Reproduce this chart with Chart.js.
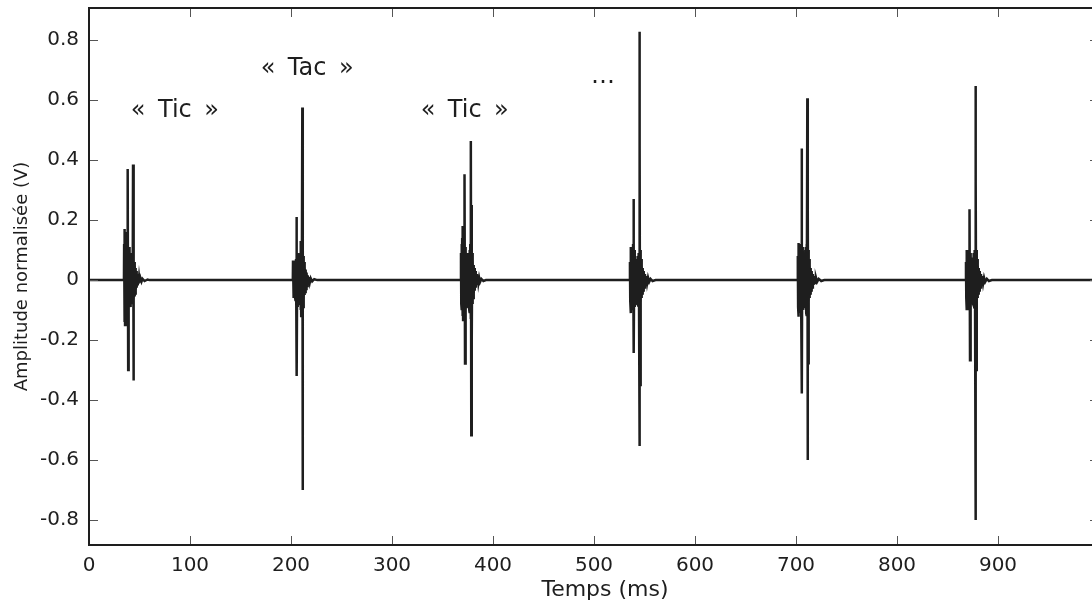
<!DOCTYPE html>
<html>
<head>
<meta charset="utf-8">
<script src="https://cdn.jsdelivr.net/npm/chart.js@4/dist/chart.umd.min.js"></script>
<style>
  html, body { margin: 0; padding: 0; background: #fff; overflow: hidden; }
  #view { position: relative; width: 1092px; height: 604px; overflow: hidden; }
  #view canvas { position: absolute; left: 0; top: 0; display: block; }
</style>
</head>
<body>
<div id="view"><canvas id="c" width="1100" height="604"></canvas></div>
<script>
// Axis ticks
const xTicks = [0, 100, 200, 300, 400, 500, 600, 700, 800, 900, 1000];
const yTicks = [-0.8, -0.6, -0.4, -0.2, 0, 0.2, 0.4, 0.6, 0.8];

// Recorded clicks of the metronome: [time (ms), amplitude (V)]
const burst1 = [
  [34.6, 0], [34.8, 0.12], [35.1, -0.14], [35.4, 0.17], [35.7, -0.15], [36.0, 0.16], [36.3, -0.13],
  [36.6, 0.15], [36.9, -0.12], [37.2, 0.13], [37.5, -0.11], [37.8, 0.10], [38.1, -0.10],
  [38.5, 0.37], [38.8, -0.30], [39.1, 0.09], [39.4, -0.10], [39.7, 0.11], [40.0, -0.09],
  [40.3, 0.10], [40.6, -0.08], [40.9, 0.09], [41.2, -0.09], [41.5, 0.08], [41.8, -0.07],
  [42.1, 0.09], [42.4, -0.08], [42.8, 0.08], [43.2, -0.07], [43.6, 0.385], [43.9, -0.335],
  [44.2, 0.07], [44.5, -0.07], [44.8, 0.06], [45.1, -0.055], [45.4, 0.05], [45.7, -0.045],
  [46.0, 0.04], [46.4, -0.035], [46.8, 0.03], [47.2, -0.025], [47.6, 0.02], [48.0, -0.018],
  [48.5, 0.015], [49.0, -0.012], [49.6, 0.01], [50.2, -0.008], [51.0, 0.006], [52.0, -0.005],
  [53.0, 0.004], [55.0, -0.003], [58.0, 0.002], [60.0, 0]
];
const burst2 = [
  [201.8, 0], [202.0, 0.065], [202.3, -0.06], [202.6, 0.06], [202.9, -0.055], [203.2, 0.05],
  [203.5, -0.05], [203.8, 0.055], [204.1, -0.06], [204.4, 0.06], [204.7, -0.07], [205.0, 0.07],
  [205.3, -0.08], [205.6, 0.21], [205.9, -0.32], [206.2, 0.08], [206.5, -0.09], [206.8, 0.09],
  [207.1, -0.08], [207.4, 0.08], [207.7, -0.075], [208.0, 0.07], [208.3, -0.07], [208.6, 0.075],
  [208.9, -0.08], [209.2, 0.09], [209.5, -0.10], [209.8, 0.13], [210.1, -0.12], [210.5, 0.10],
  [210.8, -0.11], [211.2, 0.575], [211.5, -0.70], [211.8, 0.10], [212.1, -0.09], [212.4, 0.08],
  [212.7, -0.07], [213.0, 0.06], [213.3, -0.05], [213.7, 0.045], [214.1, -0.04], [214.5, 0.035],
  [214.9, -0.03], [215.4, 0.025], [215.9, -0.02], [216.5, 0.016], [217.1, -0.012], [217.8, 0.01],
  [218.6, -0.008], [219.5, 0.006], [221.0, -0.004], [223.0, 0.003], [226.0, 0]
];
const burst3 = [
  [368.0, 0], [368.3, 0.09], [368.6, -0.08], [368.9, 0.12], [369.2, -0.10], [369.5, 0.14],
  [369.8, -0.12], [370.1, 0.18], [370.4, -0.133], [370.7, 0.12], [371.0, -0.11], [371.3, 0.13],
  [371.6, -0.12], [372.0, 0.353], [372.3, -0.278], [372.6, 0.11], [372.9, -0.10], [373.2, 0.10],
  [373.5, -0.09], [373.8, 0.09], [374.1, -0.085], [374.4, 0.085], [374.7, -0.08], [375.0, 0.08],
  [375.3, -0.08], [375.6, 0.085], [375.9, -0.09], [376.2, 0.09], [376.5, -0.10], [376.8, 0.10],
  [377.1, -0.11], [377.5, 0.12], [377.9, -0.13], [378.2, 0.464], [378.5, -0.517], [378.8, 0.25],
  [379.1, -0.20], [379.4, 0.09], [379.7, -0.08], [380.0, 0.07], [380.3, -0.06], [380.7, 0.05],
  [381.1, -0.045], [381.5, 0.04], [381.9, -0.035], [382.4, 0.03], [382.9, -0.025], [383.5, 0.02],
  [384.1, -0.016], [384.8, 0.013], [385.5, -0.01], [386.3, 0.008], [387.2, -0.006], [388.5, 0.004],
  [390.5, -0.003], [393.0, 0]
];
const burst4 = [
  [535.3, 0], [535.6, 0.06], [535.9, -0.07], [536.3, 0.11], [536.6, -0.11], [536.9, 0.09],
  [537.2, -0.08], [537.5, 0.08], [537.8, -0.09], [538.1, 0.10], [538.4, -0.10], [538.7, 0.12],
  [539.0, -0.12], [539.3, 0.27], [539.6, -0.243], [539.9, 0.10], [540.2, -0.09], [540.5, 0.08],
  [540.8, -0.08], [541.1, 0.07], [541.4, -0.07], [541.7, 0.07], [542.0, -0.065], [542.3, 0.07],
  [542.6, -0.07], [542.9, 0.075], [543.2, -0.08], [543.5, 0.08], [543.8, -0.085], [544.2, 0.09],
  [544.6, -0.09], [544.9, 0.828], [545.2, -0.553], [545.4, 0.45], [545.6, -0.35], [546.0, 0.10],
  [546.4, -0.08], [546.7, 0.07], [547.0, -0.06], [547.4, 0.05], [547.8, -0.045], [548.2, 0.04],
  [548.7, -0.035], [549.2, 0.03], [549.8, -0.025], [550.4, 0.02], [551.1, -0.016], [551.8, 0.013],
  [552.6, -0.01], [553.5, 0.008], [554.6, -0.006], [556.0, 0.004], [558.0, -0.003], [561.0, 0]
];
const burst5 = [
  [701.5, 0], [701.8, 0.08], [702.1, -0.09], [702.4, 0.124], [702.7, -0.122], [703.0, 0.11],
  [703.3, -0.10], [703.6, 0.10], [703.9, -0.11], [704.2, 0.11], [704.5, -0.11], [704.9, 0.12],
  [705.2, -0.12], [705.6, 0.439], [705.9, -0.378], [706.2, 0.11], [706.5, -0.10], [706.8, 0.10],
  [707.1, -0.09], [707.4, 0.09], [707.7, -0.09], [708.0, 0.09], [708.3, -0.085], [708.6, 0.09],
  [708.9, -0.09], [709.2, 0.10], [709.5, -0.10], [709.8, 0.11], [710.1, -0.11], [710.5, 0.12],
  [710.8, -0.12], [711.2, 0.606], [711.5, -0.60], [711.8, 0.233], [712.1, -0.277], [712.4, 0.10],
  [712.7, -0.08], [713.0, 0.07], [713.3, -0.06], [713.7, 0.05], [714.1, -0.045], [714.5, 0.04],
  [715.0, -0.035], [715.5, 0.03], [716.1, -0.025], [716.7, 0.02], [717.4, -0.016], [718.1, 0.013],
  [718.9, -0.01], [719.8, 0.008], [720.9, -0.006], [722.5, 0.004], [725.0, -0.003], [728.0, 0]
];
const burst6 = [
  [868.0, 0], [868.3, 0.06], [868.6, -0.06], [868.9, 0.10], [869.2, -0.10], [869.5, 0.09],
  [869.8, -0.08], [870.1, 0.08], [870.4, -0.09], [870.7, 0.09], [871.0, -0.10], [871.3, 0.10],
  [871.6, -0.10], [872.0, 0.236], [872.3, -0.267], [872.6, 0.09], [872.9, -0.08], [873.2, 0.08],
  [873.5, -0.07], [873.8, 0.07], [874.1, -0.065], [874.4, 0.07], [874.7, -0.07], [875.0, 0.075],
  [875.3, -0.08], [875.6, 0.08], [875.9, -0.085], [876.2, 0.09], [876.5, -0.09], [876.9, 0.10],
  [877.3, -0.10], [877.6, 0.647], [877.9, -0.80], [878.2, 0.33], [878.5, -0.30], [878.8, 0.10],
  [879.1, -0.08], [879.4, 0.07], [879.7, -0.06], [880.1, 0.05], [880.5, -0.045], [880.9, 0.04],
  [881.4, -0.035], [881.9, 0.03], [882.5, -0.025], [883.1, 0.02], [883.8, -0.016], [884.5, 0.013],
  [885.3, -0.01], [886.2, 0.008], [887.3, -0.006], [889.0, 0.004], [891.0, -0.003], [894.0, 0]
];

// Text annotations above the clicks
const noteText = ['\u00ab \u2009Tic \u2009\u00bb', '\u00ab \u2009Tac \u2009\u00bb', '\u00ab \u2009Tic \u2009\u00bb', '\u2026'];
const noteTime = [85, 216, 372, 509];
const noteAmp = [0.545, 0.685, 0.545, 0.657];

// Full signal: quiet zero level joining the clicks
const signal = [{ x: 0, y: 0 }];
[burst1, burst2, burst3, burst4, burst5, burst6].forEach(b => {
  b.forEach(([t, v]) => signal.push({ x: t, y: v }));
});
signal.push({ x: 1000, y: 0 });

const FONT = 'DejaVu Sans';
const INK = '#1e1e1e';

// Box frame, inward tick marks and annotations
const framePlugin = {
  id: 'frame',
  afterDraw(chart) {
    const { ctx, chartArea: a, scales: { x, y } } = chart;
    ctx.save();
    ctx.strokeStyle = '#555';
    ctx.lineWidth = 1;
    const tl = 9;
    ctx.beginPath();
    xTicks.forEach(v => {
      const px = Math.round(x.getPixelForValue(v)) + 0.5;
      ctx.moveTo(px, a.bottom); ctx.lineTo(px, a.bottom - tl);
      ctx.moveTo(px, a.top); ctx.lineTo(px, a.top + tl);
    });
    yTicks.forEach(v => {
      const py = Math.round(y.getPixelForValue(v)) + 0.5;
      ctx.moveTo(a.left, py); ctx.lineTo(a.left + tl, py);
      ctx.moveTo(a.right, py); ctx.lineTo(a.right - tl, py);
    });
    ctx.stroke();
    ctx.strokeStyle = INK;
    ctx.lineWidth = 2;
    ctx.strokeRect(a.left, a.top, a.right - a.left, a.bottom - a.top);

    ctx.fillStyle = INK;
    ctx.font = '24px "' + FONT + '"';
    ctx.textAlign = 'center';
    ctx.textBaseline = 'alphabetic';
    noteText.forEach((s, i) => {
      ctx.fillText(s, x.getPixelForValue(noteTime[i]), y.getPixelForValue(noteAmp[i]));
    });
    ctx.restore();
  }
};

new Chart(document.getElementById('c'), {
  type: 'line',
  data: {
    datasets: [{
      label: 'Amplitude',
      data: signal,
      borderColor: INK,
      borderWidth: 2.5,
      pointRadius: 0,
      tension: 0,
      fill: false
    }]
  },
  options: {
    responsive: false,
    animation: false,
    devicePixelRatio: 1,
    layout: { padding: { top: 8, right: 1, left: 0, bottom: 0 } },
    plugins: { legend: { display: false }, tooltip: { enabled: false } },
    scales: {
      x: {
        type: 'linear',
        min: 0, max: 1000,
        afterBuildTicks: s => { s.ticks = xTicks.map(v => ({ value: v })); },
        afterFit: s => { s.height = 59; s.paddingLeft = 0; s.paddingRight = 0; },
        grid: { display: false, drawTicks: false },
        border: { display: false },
        ticks: { color: INK, padding: 9, font: { family: FONT, size: 20 }, maxRotation: 0, autoSkip: false,
                 callback: v => (v < 1000 ? String(v) : '') },
        title: { display: true, text: '\u2003Temps (ms)', color: INK, font: { family: FONT, size: 22 }, padding: { top: 0, bottom: 1 } }
      },
      y: {
        min: -0.883, max: 0.907,
        afterBuildTicks: s => { s.ticks = yTicks.map(v => ({ value: v })); },
        afterFit: s => { s.width = 89; s.paddingTop = 0; s.paddingBottom = 0; },
        grid: { display: false, drawTicks: false },
        border: { display: false },
        ticks: { color: INK, padding: 10, font: { family: FONT, size: 20 }, callback: v => String(v) },
        title: { display: true, text: 'Amplitude normalisée (V)', color: INK, font: { family: FONT, size: 18 }, padding: { top: 12, bottom: 0 } }
      }
    }
  },
  plugins: [framePlugin]
});
</script>
</body>
</html>
